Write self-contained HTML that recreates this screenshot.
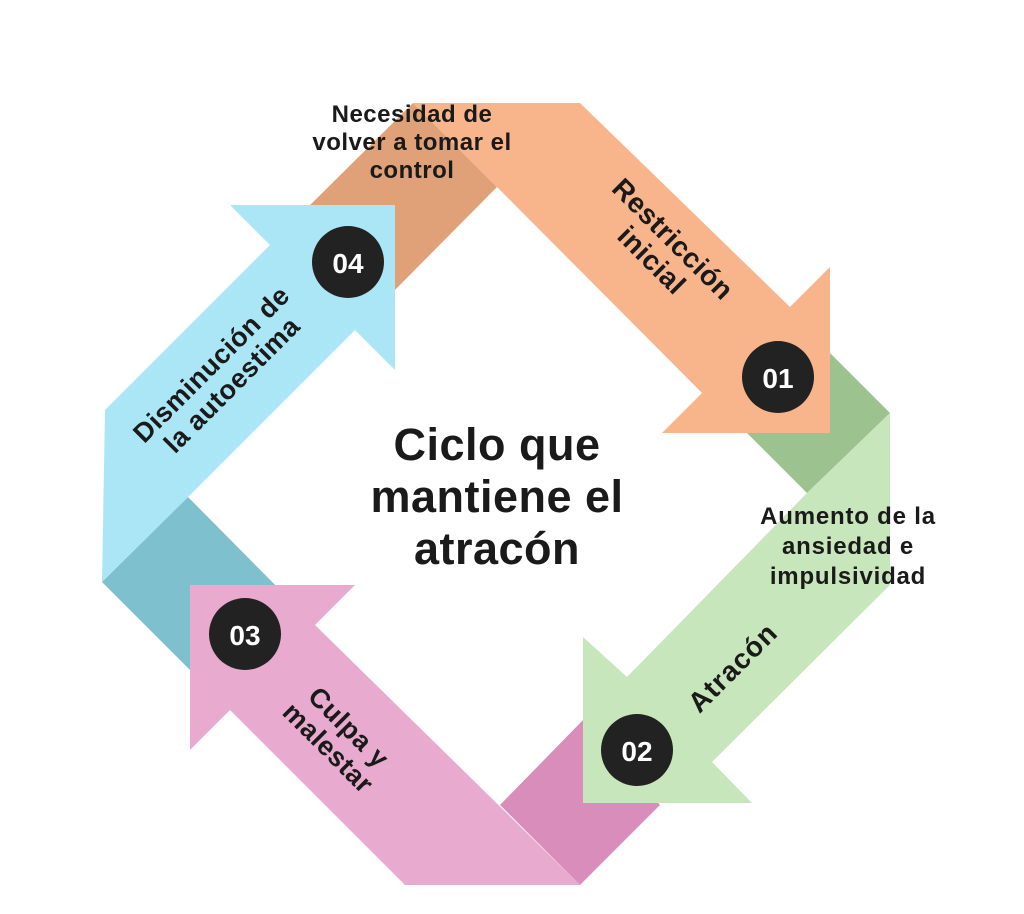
<!DOCTYPE html>
<html><head><meta charset="utf-8"><style>
html,body{margin:0;padding:0;background:#fff;}
svg{display:block;}
text{font-family:"Liberation Sans",sans-serif;font-weight:bold;fill:#1a1a1a;}
</style></head><body>
<svg width="1024" height="914" viewBox="0 0 1024 914" xmlns="http://www.w3.org/2000/svg">
<rect width="1024" height="914" fill="#fff"/>
<polygon points="300,215 413,103 497,187 390,295" fill="#e0a178"/>
<polygon points="747,433 830,353 890,413 807,493 720,406" fill="#9cc28f"/>
<polygon points="500,805 585,718 660,805 580,885" fill="#d98dba"/>
<polygon points="188,497 290,600 205,685 102,582" fill="#7fc0cf"/>
<polygon points="413,103 580,103 790,307 830,267 830,433 662,433 702,393 497,187" fill="#f8b58c"/>
<polygon points="890,413 890,585 712,762 752,803 583,803 583,637 627,677 807,493" fill="#c8e6bb"/>
<polygon points="580,885 405,885 230,710 190,750 190,585 355,585 315,625" fill="#e8abcf"/>
<polygon points="102,582 105,410 270,245 230,205 395,205 395,370 355,330 188,497" fill="#abe6f6"/>
<circle cx="778" cy="377" r="36" fill="#222"/>
<text x="778" y="388" font-size="28" text-anchor="middle" style="fill:#fff">01</text>
<circle cx="637" cy="750" r="36" fill="#222"/>
<text x="637" y="761" font-size="28" text-anchor="middle" style="fill:#fff">02</text>
<circle cx="245" cy="634" r="36" fill="#222"/>
<text x="245" y="645" font-size="28" text-anchor="middle" style="fill:#fff">03</text>
<circle cx="348" cy="262" r="36" fill="#222"/>
<text x="348" y="273" font-size="28" text-anchor="middle" style="fill:#fff">04</text>
<text x="497" y="460" font-size="45" text-anchor="middle" letter-spacing="0.5">Ciclo que</text>
<text x="497" y="512" font-size="45" text-anchor="middle" letter-spacing="0.5">mantiene el</text>
<text x="497" y="564" font-size="45" text-anchor="middle" letter-spacing="0.5">atracón</text>
<text x="412" y="122" font-size="24" text-anchor="middle" letter-spacing="0.5">Necesidad de</text>
<text x="412" y="150" font-size="24" text-anchor="middle" letter-spacing="0.5">volver a tomar el</text>
<text x="412" y="178" font-size="24" text-anchor="middle" letter-spacing="0.5">control</text>
<text x="848" y="524" font-size="24" text-anchor="middle" letter-spacing="0.8">Aumento de la</text>
<text x="848" y="554" font-size="24" text-anchor="middle" letter-spacing="0.8">ansiedad e</text>
<text x="848" y="584" font-size="24" text-anchor="middle" letter-spacing="0.8">impulsividad</text>
<g transform="translate(662,250) rotate(45)">
<text x="0" y="-6" font-size="28" text-anchor="middle" letter-spacing="0.5">Restricción</text>
<text x="0" y="24" font-size="28" text-anchor="middle" letter-spacing="0.5">inicial</text>
</g>
<g transform="translate(222,375) rotate(-45)">
<text x="0" y="-6" font-size="27" text-anchor="middle" letter-spacing="0.5">Disminución de</text>
<text x="0" y="23" font-size="27" text-anchor="middle" letter-spacing="0.5">la autoestima</text>
</g>
<g transform="translate(733,668) rotate(-45)">
<text x="0" y="9" font-size="28" text-anchor="middle" letter-spacing="1">Atracón</text>
</g>
<g transform="translate(338,738) rotate(45)">
<text x="0" y="-6" font-size="27" text-anchor="middle" letter-spacing="0.5">Culpa y</text>
<text x="0" y="23" font-size="27" text-anchor="middle" letter-spacing="0.5">malestar</text>
</g>
</svg>
</body></html>
